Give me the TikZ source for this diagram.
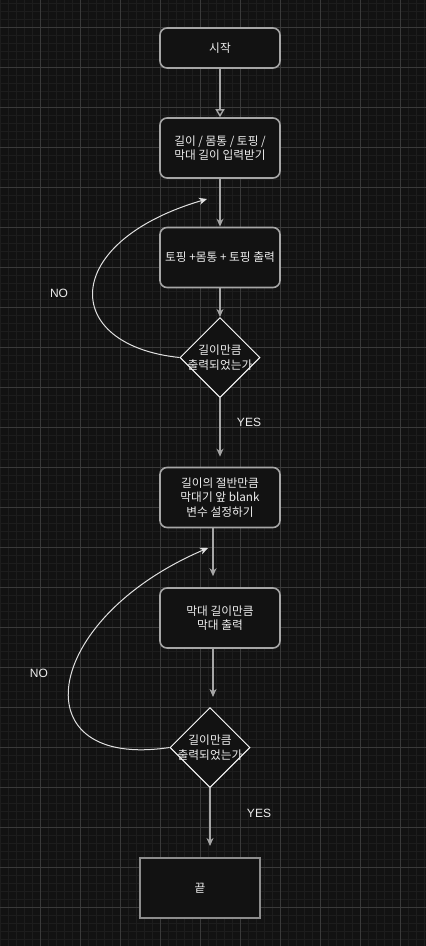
\documentclass[tikz,border=0pt]{standalone}
\usepackage{fontspec}
\setmainfont{Liberation Sans}
\newfontfamily\krfont{Noto Sans CJK KR}
\usetikzlibrary{calc,arrows.meta,shapes.geometric}
\definecolor{bg}{HTML}{121212}
\definecolor{gridmin}{HTML}{1D1D1D}
\definecolor{gridmaj}{HTML}{3A3A3A}
\definecolor{edge}{HTML}{A6A6A6}
\definecolor{text}{HTML}{EEEEEE}
\tikzset{
  minor/.style={draw=gridmin, line width=1pt},
  major/.style={draw=gridmaj, line width=1pt},
  kr/.style={text=text, font=\krfont\fontsize{11.7pt}{14.5pt}\selectfont},
  proc/.style={kr, draw=edge, fill=bg, line width=1.6pt, rounded corners=7pt,
    minimum width=120pt, minimum height=60pt, inner sep=0pt, align=center},
  finish/.style={proc, rounded corners=0pt, line width=2pt, draw=edge!85!black},
  decide/.style={diamond, draw=white, fill=bg, line width=1pt,
    minimum width=80pt, minimum height=80pt, inner sep=0pt},
  dtext/.style={kr, align=center, inner sep=0pt},
  flow/.style={draw=edge, line width=1.4pt, -{Stealth[length=8pt,width=7pt,inset=2.5pt]}},
  flowopen/.style={draw=edge, line width=1.4pt, -{Triangle[open,length=8pt,width=9pt]}},
  retry/.style={draw=white!88!black, line width=1pt, -{Stealth[length=8pt,width=7pt,inset=2.5pt]}},
  lab/.style={text=text, font=\fontsize{12pt}{14pt}\selectfont},
}
\begin{document}
\begin{tikzpicture}[x=1pt, y=-1pt]
  % canvas and grid
  \useasboundingbox (0,0) rectangle (426,946);
  \fill[bg] (0,0) rectangle (426,946);
  \foreach \gx in {0,8,...,424} \draw[minor] (\gx,0) -- (\gx,946);
  \foreach \gy in {3,11,...,945} \draw[minor] (0,\gy) -- (426,\gy);
  \foreach \gx in {40,80,...,400} \draw[major] (\gx,0) -- (\gx,946);
  \foreach \gy in {27,67,...,945} \draw[major] (0,\gy) -- (426,\gy);

  % first part
  \node[proc, minimum height=40pt] (start) at (220,48) {시작};
  \node[proc] (input) at (220,148) {길이 / 몸통 / 토핑 /\\막대 길이 입력받기};
  \node[proc] (topping) at (220,257.5) {토핑 +몸통 + 토핑 출력};
  \node[decide] (chk1) at (220,357.5) {};
  \node[dtext] (chk1txt) at (chk1) {길이만큼\\출력되었는가};
  \coordinate (back1) at (207,199);

  \draw[flowopen] (start) -- (input);
  \draw[flow] (input) -- (topping);
  \draw[flow] (topping) -- (chk1);
  \draw[retry] (chk1.west) .. controls (60,345) and (60,242) .. (back1);
  \node[lab] (no1) at (59,293) {NO};
  \node[lab] (yes1) at (249,422) {YES};

  % second part
  \node[proc] (blank) at (220,497.5) {길이의 절반만큼\\막대기 앞 blank\\변수 설정하기};
  \node[proc] (bar) at (220,618) {막대 길이만큼\\막대 출력};
  \node[decide] (chk2) at (210,747.5) {};
  \node[dtext] (chk2txt) at (chk2) {길이만큼\\출력되었는가};
  \node[finish] (done) at (200,888) {끝};
  \coordinate (back2) at (208,548);

  \draw[flow, shorten >=10pt] (chk1) -- (blank);
  \draw[flow, shorten >=11pt] ($(blank.south)+(-7,0)$) -- ($(bar.north)+(-7,0)$);
  \draw[flow, shorten >=10pt] ($(bar.south)+(-7,0)$) -- ($(chk2.north)+(3,0)$);
  \draw[flow, shorten >=11pt] (chk2.south) -- (chk2.south |- done.north);
  \draw[retry] (chk2.west) .. controls (20,770) and (40,620) .. (back2);
  \node[lab] (no2) at (39,673) {NO};
  \node[lab] (yes2) at (259,813) {YES};
\end{tikzpicture}
\end{document}
